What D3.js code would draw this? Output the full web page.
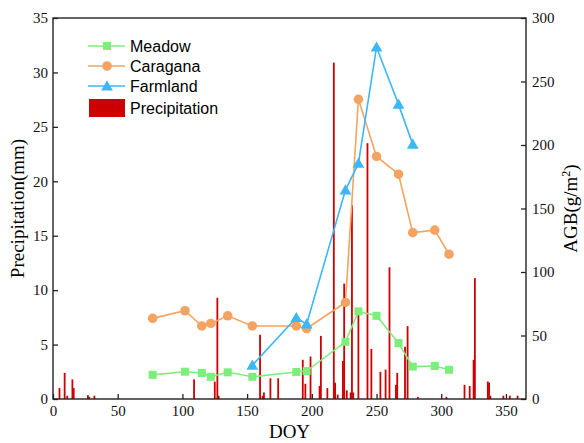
<!DOCTYPE html>
<html lang="en">
<head>
<meta charset="utf-8">
<script src="https://cdn.jsdelivr.net/npm/d3@7"></script>
<title>Precipitation and AGB</title>
<style>
body{
margin:0;
background:#fff;
}
svg{
display:block;
}
</style>
</head>
<body>
<svg width="584" height="443"></svg>
<script>
// daily precipitation (DOY, mm)
var rainDoy = [5,9,11,15,16,27,28,32,109,125,127,128,160,162,163,168,174,193,195,199,206,207,212,217,218,220,224,225,227,230,231,232,236,243,246,253,257,260,265,266,272,274,282,304,318,322,325,326,336,337,338,348,353,359];
var rainMm  = [1.0,2.4,0.3,1.8,1.0,0.35,0.2,0.3,1.8,1.6,9.3,0.3,5.9,0.3,0.6,1.9,1.9,3.6,1.4,3.9,1.2,5.8,1.0,30.9,1.5,0.4,3.5,10.6,0.8,0.6,17.8,0.6,8.0,23.5,4.6,2.5,2.7,12.1,1.3,2.4,4.8,6.7,0.2,0.2,1.3,1.2,3.6,11.1,1.6,1.5,0.3,0.3,0.3,0.3];

// sampling days and AGB (g/m2)
var sampleDoy = [77,102,115,122,135,154,188,196,226,236,250,267,278,295,306];
var meadow    = [19,21.5,20.5,17.5,21,17.5,21.3,22,45,69,65.5,44,25.5,26,23];
var caragana  = [63.5,69.5,57.5,59.5,65.5,57.5,57.5,55.5,76,236,191,177,131,133,114];
var farmDoy   = [154,188,196,226,236,250,267,278];
var farmland  = [26.5,64,59,164.5,185.5,277,232,200.5];

var xTicks = [0,50,100,150,200,250,300,350];
var leftTicks = [0,5,10,15,20,25,30,35];
var rightTicks = [0,50,100,150,200,250,300];

var plotL = 53, plotR = 526, plotT = 18, plotB = 399;
var serif = "'Liberation Serif','Times New Roman',serif";
var sans = "'Liberation Sans',Arial,sans-serif";

var green = "#7cee7c", orange = "#f4a462", blue = "#3db7f7", red = "#cc0000";

var svg = d3.select("svg");

var x = d3.scaleLinear().domain([0,365.5]).range([plotL,plotR]);
var yL = d3.scaleLinear().domain([0,35]).range([plotB,plotT]);
var yR = d3.scaleLinear().domain([0,300]).range([plotB,plotT]);

// precipitation bars
svg.append("g").selectAll("rect")
.data(rainDoy).enter()
.append("rect")
.attr("x",function(d){return x(d)-0.9})
.attr("width",1.8)
.attr("y",function(d,i){return yL(rainMm[i])})
.attr("height",function(d,i){return plotB-yL(rainMm[i])})
.attr("fill",red);

// frame
svg.append("rect")
.attr("x",plotL).attr("y",plotT)
.attr("width",plotR-plotL).attr("height",plotB-plotT)
.attr("fill","none")
.attr("stroke","#222")
.attr("stroke-width",1.4);

function styleAxis(g){
g.select(".domain").remove();
g.selectAll("line").attr("stroke","#222").attr("stroke-width",1.3);
g.selectAll("text").attr("font-family",serif).attr("font-size",15).attr("fill","#111");
}

svg.append("g")
.attr("transform","translate(0,"+plotB+")")
.call(d3.axisBottom(x).tickValues(xTicks).tickSize(-5).tickPadding(6))
.call(styleAxis);

svg.append("g")
.attr("transform","translate("+plotL+",0)")
.call(d3.axisLeft(yL).tickValues(leftTicks).tickSize(-5).tickPadding(5))
.call(styleAxis);

svg.append("g")
.attr("transform","translate("+plotR+",0)")
.call(d3.axisRight(yR).tickValues(rightTicks).tickSize(-5).tickPadding(6))
.call(styleAxis);

// axis titles
svg.append("text")
.attr("x",(plotL+plotR)/2).attr("y",438)
.attr("text-anchor","middle")
.attr("font-family",serif).attr("font-size",19)
.text("DOY");

svg.append("text")
.attr("transform","translate(24,"+((plotT+plotB)/2)+") rotate(-90)")
.attr("text-anchor","middle")
.attr("font-family",serif).attr("font-size",19)
.text("Precipitation(mm)");

var agb = svg.append("text")
.attr("transform","translate(577,"+((plotT+plotB)/2)+") rotate(-90)")
.attr("text-anchor","middle")
.attr("font-family",serif).attr("font-size",19);
agb.append("tspan").text("AGB(g/m");
agb.append("tspan").attr("dy",-7).attr("font-size",12).text("2");
agb.append("tspan").attr("dy",7).text(")");

// AGB lines
var triangle = d3.symbol().type(d3.symbolTriangle).size(60);

function drawSeries(days, vals, color, marker){
var line = d3.line()
.x(function(d,i){return x(days[i])})
.y(function(d){return yR(d)});
svg.append("path")
.datum(vals)
.attr("d",line)
.attr("fill","none")
.attr("stroke",color)
.attr("stroke-width",1.6);
var g = svg.append("g");
vals.forEach(function(v,i){
  drawMarker(g, x(days[i]), yR(v), color, marker);
});
}

function drawMarker(g, cx, cy, color, marker){
if(marker=="square"){
  g.append("rect").attr("x",cx-4).attr("y",cy-4).attr("width",8).attr("height",8).attr("fill",color);
} else if(marker=="circle"){
  g.append("circle").attr("cx",cx).attr("cy",cy).attr("r",4.8).attr("fill",color);
} else {
  g.append("path").attr("d",triangle).attr("transform","translate("+cx+","+(cy+1)+")").attr("fill",color);
}
}

drawSeries(sampleDoy, meadow, green, "square");
drawSeries(sampleDoy, caragana, orange, "circle");
drawSeries(farmDoy, farmland, blue, "triangle");

// legend
var legend = [
{name:"Meadow", color:green, marker:"square"},
{name:"Caragana", color:orange, marker:"circle"},
{name:"Farmland", color:blue, marker:"triangle"}
];
legend.forEach(function(d,i){
var ly = 46 + i*20;
svg.append("line").attr("x1",88).attr("x2",125).attr("y1",ly).attr("y2",ly)
.attr("stroke",d.color).attr("stroke-width",1.6);
drawMarker(svg, 107, ly, d.color, d.marker);
svg.append("text").attr("x",130).attr("y",ly+5.5)
.attr("font-family",sans).attr("font-size",16).text(d.name);
});
svg.append("rect").attr("x",89).attr("y",99).attr("width",36).attr("height",18).attr("fill",red);
svg.append("text").attr("x",130).attr("y",113.5)
.attr("font-family",sans).attr("font-size",16).text("Precipitation");
</script>
</body>
</html>
